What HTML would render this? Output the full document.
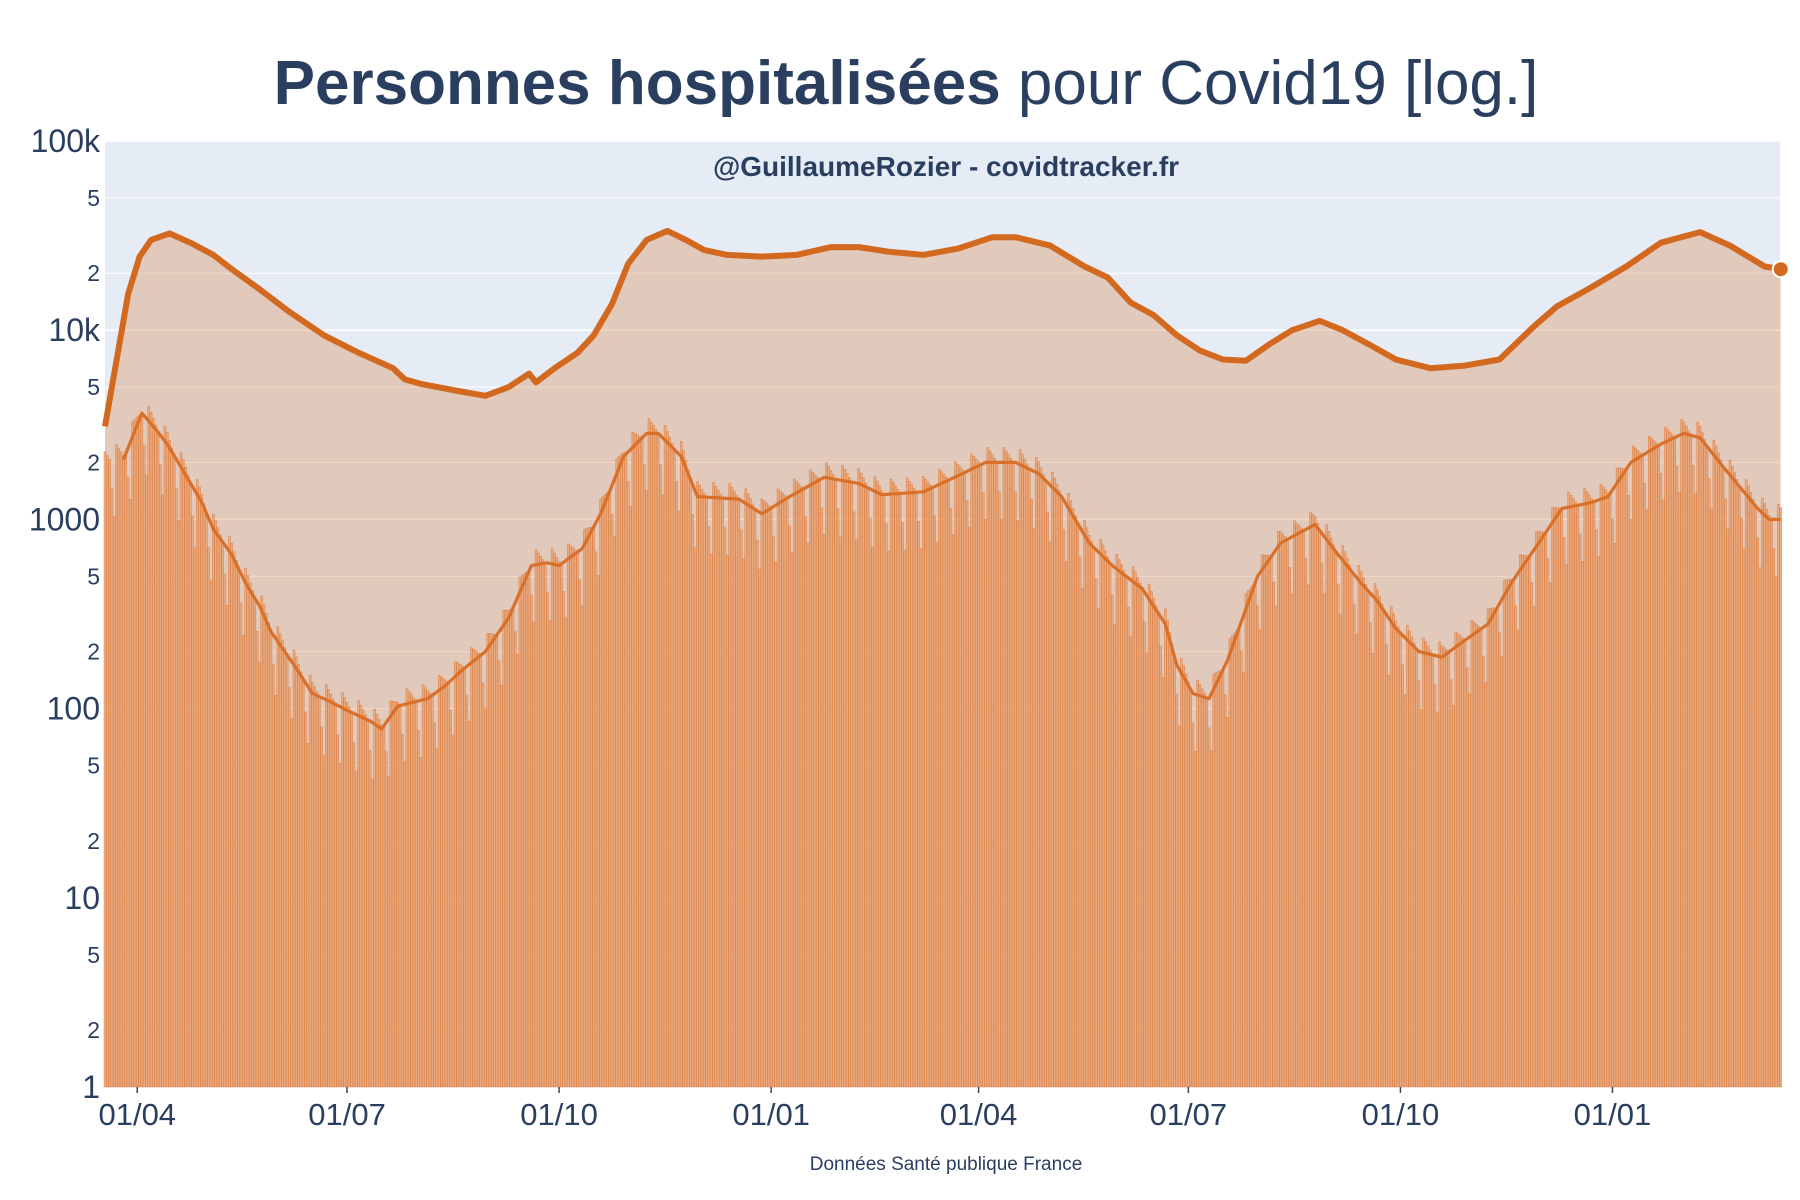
<!DOCTYPE html>
<html><head><meta charset="utf-8"><style>
html,body{margin:0;padding:0;background:#fff;}
svg{display:block;font-family:"Liberation Sans",sans-serif;}
</style></head><body>
<svg id="chart" width="1800" height="1200" viewBox="0 0 1800 1200" xmlns="http://www.w3.org/2000/svg">
<rect x="0" y="0" width="1800" height="1200" fill="#ffffff"/>
<rect x="105" y="141" width="1675" height="946" fill="#e5ecf6"/>
<g id="grid"></g>
<g id="area"></g>
<g id="bars"></g>
<g id="lines"></g>
<g id="yaxis"></g>
<g id="xaxis"></g>
<text x="906" y="104" text-anchor="middle" font-size="62" fill="#2a3f5f"><tspan font-weight="bold">Personnes hospitalisées</tspan> pour Covid19 [log.]</text>
<text x="946" y="176" text-anchor="middle" font-size="28" font-weight="bold" fill="#2a3f5f">@GuillaumeRozier - covidtracker.fr</text>
<text x="946" y="1170" text-anchor="middle" font-size="19" fill="#2a3f5f">Données Santé publique France</text>
</svg>
<script>
// Days since 2020-03-18
const hospDays = [0,10,15,20,28,37,47,55,67,80,95,110,125,130,137,152,165,175,184,187,195,205,212,220,227,235,244,252,260,270,285,300,315,327,340,355,370,385,395,410,425,435,445,455,465,475,485,495,505,515,527,537,550,560,575,590,605,620,630,645,660,675,692,705,720,727];
const hospValues = [3100,15500,24500,30000,32500,29000,25000,21000,16500,12500,9400,7600,6300,5500,5200,4800,4500,5000,5900,5300,6300,7600,9400,13800,22500,30000,33500,30000,26500,25000,24500,25000,27500,27500,26000,25000,27000,31000,31000,28000,21700,19000,14000,12000,9400,7800,7000,6900,8400,10000,11200,10000,8200,7000,6300,6500,7000,10500,13400,16900,21700,29000,33000,28000,21700,21000];
const admDays = [8,16,22,27,34,42,47,55,61,67,72,82,90,97,105,115,120,127,140,147,155,165,175,185,192,197,207,215,225,235,240,250,257,275,285,297,312,327,337,355,370,382,395,405,415,427,437,450,460,465,472,479,487,500,510,525,535,545,552,560,570,580,590,600,610,622,632,645,652,662,675,685,692,702,717,722,727];
const admValues = [2070,3640,3000,2500,1800,1230,890,650,460,350,255,170,120,110,98,86,78,103,113,130,160,200,300,570,590,570,700,1070,2150,2850,2850,2150,1320,1280,1070,1320,1670,1550,1350,1400,1700,2000,2000,1750,1320,750,570,430,280,170,120,113,180,500,750,940,650,460,370,265,200,187,230,280,460,750,1140,1230,1320,2000,2500,2850,2700,1900,1140,1000,1000];
const weekdayFactor = [1.2,1.15,1.1,1.05,1.0,0.7,0.5];
const yMajorTicks = ["1","10","100","1000","10k","100k"];
const xTickLabels = ["01/04","01/07","01/10","01/01","01/04","01/07","01/10","01/01"];
const xTickDays = [14,105,197,289,379,470,562,654];

const NS="http://www.w3.org/2000/svg";
const X0=105,PX=2.305,YB=1087,DEC=189.2;
const x=d=>X0+d*PX;
const y=v=>YB-Math.log10(v)*DEC;
function mk(tag,attrs,parent){const e=document.createElementNS(NS,tag);for(const k in attrs)e.setAttribute(k,attrs[k]);parent.appendChild(e);return e;}
const grid=document.getElementById('grid');
for(let p=0;p<=5;p++){
  [1,2,5].forEach(m=>{const v=m*Math.pow(10,p);if(v>100000||(p===0&&m===1))return;
    const l=mk('line',{x1:105,x2:1780,y1:y(v),y2:y(v),stroke:'#ffffff','stroke-width':m===1?1.5:1},grid);
    
    
  });
}
let dPath='';
hospDays.forEach((d,i)=>{dPath+=(i?'L':'M')+x(d).toFixed(1)+','+y(hospValues[i]).toFixed(1);});
const areaG=document.getElementById('area');
const ar=mk('path',{d:dPath+'L'+x(hospDays[hospDays.length-1])+','+YB+'L'+x(hospDays[0])+','+YB+'Z',fill:'rgba(214,110,40,0.28)'},areaG);


function interpAdm(d){
  if(d<=admDays[0])return admValues[0];
  for(let i=1;i<admDays.length;i++){if(d<=admDays[i]){const t=(d-admDays[i-1])/(admDays[i]-admDays[i-1]);return Math.pow(10,Math.log10(admValues[i-1])*(1-t)+Math.log10(admValues[i])*t);}}
  return admValues[admValues.length-1];
}
const barsG=document.getElementById('bars');
const last=hospDays[hospDays.length-1];
for(let d=0;d<=last;d++){
  const v=interpAdm(d)*weekdayFactor[(d+2)%7];
  const yt=y(Math.max(v,1));
  const b=mk('rect',{x:(x(d)-1.0).toFixed(2),y:yt.toFixed(1),width:2.0,height:(YB-yt).toFixed(1),fill:'rgba(236,160,110,0.75)',stroke:'rgba(215,115,50,0.8)','stroke-width':0.5},barsG);
  
  
}
const linesG=document.getElementById('lines');
let aPath='';
admDays.forEach((d,i)=>{aPath+=(i?'L':'M')+x(d).toFixed(1)+','+y(admValues[i]).toFixed(1);});
const al=mk('path',{d:aPath,fill:'none',stroke:'#d8702a','stroke-width':3.2,'stroke-linejoin':'round'},linesG);


const hl=mk('path',{d:dPath,fill:'none',stroke:'#d2691e','stroke-width':6,'stroke-linejoin':'round'},linesG);


const mkr=mk('circle',{cx:x(last),cy:y(hospValues[hospValues.length-1]),r:8,fill:'#d2691e',stroke:'#ffffff','stroke-width':2},linesG);


const ya=document.getElementById('yaxis');
yMajorTicks.forEach((lab,p)=>{
  const t=mk('text',{x:100,y:y(Math.pow(10,p))+11,'text-anchor':'end','font-size':32,fill:'#2a3f5f'},ya);
  t.textContent=lab;
  
  
  if(p<5)[2,5].forEach(m=>{
    const s=mk('text',{x:100,y:y(m*Math.pow(10,p))+8,'text-anchor':'end','font-size':23,fill:'#2a3f5f'},ya);
    s.textContent=String(m);
    
    
  });
});
const xa=document.getElementById('xaxis');
xTickLabels.forEach((lab,i)=>{
  const tk=mk('line',{x1:x(xTickDays[i]),x2:x(xTickDays[i]),y1:YB,y2:YB+6,stroke:'#444','stroke-width':1.5},xa);
  
  
  const t=mk('text',{x:x(xTickDays[i]),y:1125,'text-anchor':'middle','font-size':31,fill:'#2a3f5f'},xa);
  t.textContent=lab;
  
  
});
</script>
</body></html>
